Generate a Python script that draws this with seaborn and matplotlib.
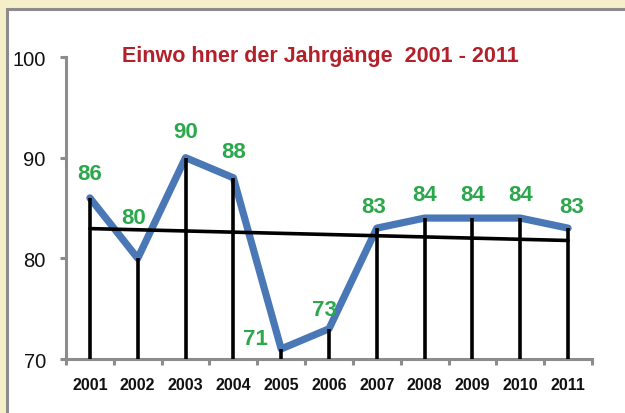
import numpy as np
import matplotlib
matplotlib.use("Agg")
import matplotlib.pyplot as plt
from matplotlib.patches import Rectangle
from matplotlib.ticker import FixedLocator, NullFormatter
import seaborn as sns

years = ["2001", "2002", "2003", "2004", "2005", "2006", "2007", "2008", "2009", "2010", "2011"]
residents = [86, 80, 90, 88, 71, 73, 83, 84, 84, 84, 83]
y_ticks = [70, 80, 90, 100]
title = "Einwo hner der Jahrgänge  2001 - 2011"

sns.set_theme(style="white")
FONT = ["Liberation Sans", "DejaVu Sans"]
plt.rcParams["font.family"] = FONT

BEIGE = "#F4EFC9"
GRAY = "#8C8C8C"
BLUE = "#4A78B6"
GREEN = "#2CA84C"
RED = "#B3202A"

W, H = 625, 414
fig = plt.figure(figsize=(W / 100, H / 100), dpi=100, facecolor=BEIGE)
# white panel with gray border
fig.patches.append(Rectangle((6.5 / W, -0.05), 1.2, 1 - 10 / H + 0.05,
                             transform=fig.transFigure, facecolor="white",
                             edgecolor=GRAY, linewidth=2.2, zorder=-5))

ax = fig.add_axes([66 / W, 1 - 360 / H, (592 - 66) / W, (360 - 58) / H])
ax.set_facecolor("none")
ax.set_zorder(2)

x = np.arange(len(years))
sns.lineplot(x=x, y=residents, ax=ax, color=BLUE, linewidth=5.2, zorder=2,
             solid_joinstyle="round", solid_capstyle="round")
ax.vlines(x, y_ticks[0], residents, color="black", linewidth=2.6, zorder=3)
sns.regplot(x=x, y=residents, ax=ax, scatter=False, ci=None, truncate=True,
            line_kws=dict(color="black", linewidth=2.6, zorder=4))

# label offsets in pixels (dx, dy)
offs = {0: (0, 24), 1: (-4, 41), 2: (0, 26), 3: (0, 26), 4: (-26, 10),
        5: (-5, 19), 6: (-3, 22), 7: (0, 24), 8: (0, 24), 9: (0, 24), 10: (4, 22)}
for i, v in enumerate(residents):
    dx, dy = offs[i]
    ax.annotate(str(v), (x[i], v), xytext=(dx * 0.72, dy * 0.72),
                textcoords="offset points", ha="center", va="center",
                color=GREEN, fontsize=16, fontweight="bold", family=FONT,
                zorder=5, annotation_clip=False)

ax.set_xlim(-0.5, len(years) - 0.5)
ax.set_ylim(y_ticks[0], y_ticks[-1])
ax.set_xlabel("")
ax.set_ylabel("")

for s in ["top", "right"]:
    ax.spines[s].set_visible(False)
for s in ["left", "bottom"]:
    ax.spines[s].set_color(GRAY)
    ax.spines[s].set_linewidth(2.2)
    ax.spines[s].set_zorder(1)

ax.set_yticks(y_ticks)
ax.set_yticklabels([str(t) for t in y_ticks])
ax.tick_params(axis="y", direction="out", length=4.5, width=2.2, color=GRAY,
               pad=10, labelsize=14.5, labelcolor="#111111", left=True)

ax.xaxis.set_major_locator(FixedLocator(np.arange(-0.5, len(years), 1.0)))
ax.xaxis.set_major_formatter(NullFormatter())
ax.xaxis.set_minor_locator(FixedLocator(x))
ax.set_xticklabels(years, minor=True)
ax.tick_params(axis="x", which="major", direction="out", length=4.5, width=2.2,
               color=GRAY, bottom=True)
ax.tick_params(axis="x", which="minor", length=0, pad=13, labelsize=11.5,
               labelcolor="#111111")
for lab in ax.get_xticklabels(minor=True):
    lab.set_fontweight("bold")

fig.text(320 / W, 1 - 57 / H, title, ha="center", va="center", color=RED,
         fontsize=15.5, fontweight="bold", family=FONT)

fig.savefig("out.png", dpi=100, facecolor=BEIGE)
